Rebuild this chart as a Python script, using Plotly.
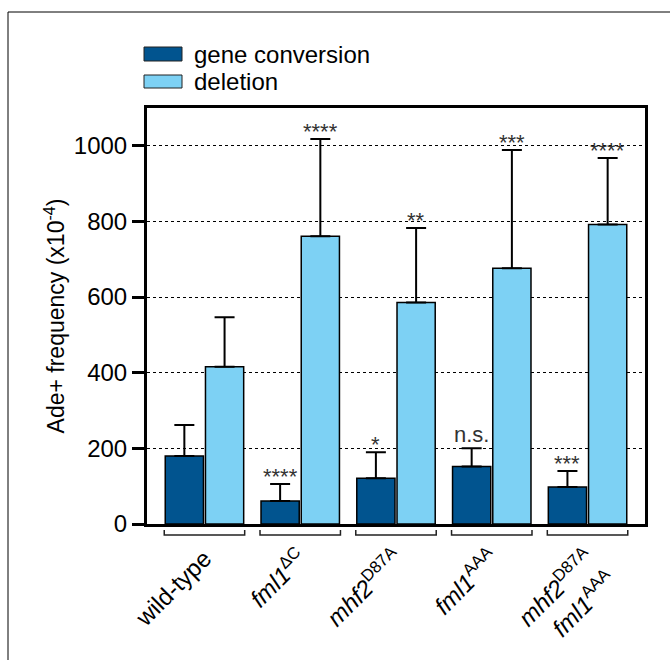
import plotly.graph_objects as go

# ---- data ----
groups = [
    "wild-type",
    "<i>fml1</i><sup>ΔC</sup>",
    "<i>mhf2</i><sup>D87A</sup>",
    "<i>fml1</i><sup>AAA</sup>",
    "<i>mhf2</i><sup>D87A</sup><br><i>fml1</i><sup>AAA</sup>",
]
gene_conversion = [180, 61, 121, 152, 98]
gene_conversion_sd = [82, 45, 69, 48, 42]
deletion = [416, 761, 586, 676, 792]
deletion_sd = [131, 257, 197, 313, 176]
gc_sig = ["", "****", "*", "n.s.", "***"]
del_sig = ["", "****", "**", "***", "****"]
series_names = ["gene conversion", "deletion"]
y_ticks = [0, 200, 400, 600, 800, 1000]

# ---- style ----
DARK = "#01548F"
LIGHT = "#7DD1F4"
FONT = "Arial, Liberation Sans, sans-serif"
W, H = 670, 660
ML, MR, MT, MB = 147, 25, 108, 136
PW, PH = W - ML - MR, H - MT - MB
XR = [-0.6, 4.6]
BARGAP, GROUPGAP = 0.16, 0.05
slot = (1 - BARGAP) / 2


def px_x(p):
    return (p - ML) / PW


def px_y(p):
    return (MT + PH - p) / PH


def dx_paper(v):
    return (v - XR[0]) / (XR[1] - XR[0])


xs = list(range(len(groups)))

fig = go.Figure()
for name, vals, sd, col in [
    (series_names[0], gene_conversion, gene_conversion_sd, DARK),
    (series_names[1], deletion, deletion_sd, LIGHT),
]:
    fig.add_trace(go.Bar(
        x=xs, y=vals, name=name,
        marker=dict(color=col, line=dict(color="black", width=1.5)),
        error_y=dict(type="data", array=sd, symmetric=False,
                     arrayminus=[0] * len(sd), color="black",
                     thickness=2, width=10),
        showlegend=False,
    ))

annotations = []
for offs, vals, sd, sig in [(-slot / 2, gene_conversion, gene_conversion_sd, gc_sig),
                            (slot / 2, deletion, deletion_sd, del_sig)]:
    for i, (v, s, t) in enumerate(zip(vals, sd, sig)):
        if not t:
            continue
        star = "*" in t
        annotations.append(dict(
            x=i + offs, y=v + s, xref="x", yref="y", text=t,
            showarrow=False, yanchor="bottom",
            yshift=-7 if star else -1,
            font=dict(family=FONT, size=22, color="#333333"),
        ))

# legend (custom)
shapes = []
leg_rows = [(series_names[0], DARK, 47, 61), (series_names[1], LIGHT, 75, 88)]
for name, col, y0, y1 in leg_rows:
    shapes.append(dict(type="rect", xref="paper", yref="paper",
                       x0=px_x(144), x1=px_x(182), y0=px_y(y1), y1=px_y(y0),
                       fillcolor=col, line=dict(color="#222", width=1)))
    annotations.append(dict(x=px_x(192), y=px_y((y0 + y1) / 2), xref="paper", yref="paper",
                            text=name, showarrow=False, xanchor="left", yanchor="middle",
                            font=dict(family=FONT, size=24, color="black")))

# brackets under groups
for i in xs:
    a, b = dx_paper(i - slot), dx_paper(i + slot)
    yl, yt = px_y(535), px_y(530)
    shapes.append(dict(type="path", xref="paper", yref="paper",
                       path=f"M {a},{yt} L {a},{yl} L {b},{yl} L {b},{yt}",
                       line=dict(color="#222", width=1.5)))

# outer frame
shapes.append(dict(type="rect", xref="paper", yref="paper",
                   x0=px_x(8), x1=1.3, y0=-0.6, y1=px_y(12),
                   line=dict(color="black", width=1), fillcolor="rgba(0,0,0,0)"))

fig.update_layout(
    width=W, height=H, autosize=False,
    margin=dict(l=ML, r=MR, t=MT, b=MB),
    paper_bgcolor="white", plot_bgcolor="white",
    barmode="group", bargap=BARGAP, bargroupgap=GROUPGAP,
    font=dict(family=FONT, size=24, color="black"),
    annotations=annotations, shapes=shapes,
    xaxis=dict(range=XR, tickmode="array", tickvals=xs, ticktext=groups,
               tickangle=-45, ticks="", showline=True, linecolor="black",
               linewidth=3, mirror=True, showgrid=False, zeroline=False,
               automargin=False,
               ticklabelstandoff=8, tickfont=dict(size=24)),
    yaxis=dict(range=[0, 1100], tickmode="array", tickvals=y_ticks,
               ticks="outside", ticklen=12, tickwidth=3, tickcolor="black",
               showline=True, linecolor="black", linewidth=3, mirror=True,
               showgrid=True, gridcolor="black", gridwidth=1, griddash="dot",
               zeroline=False, tickfont=dict(size=24), automargin=False,
               title=dict(text="Ade+ frequency (x10<sup>-4</sup>)",
                          font=dict(size=23), standoff=3)),
)

fig.write_html(
    "out.html",
    config={"displayModeBar": False},
    post_script="document.body.style.margin='0';document.body.style.overflow='hidden';",
)
